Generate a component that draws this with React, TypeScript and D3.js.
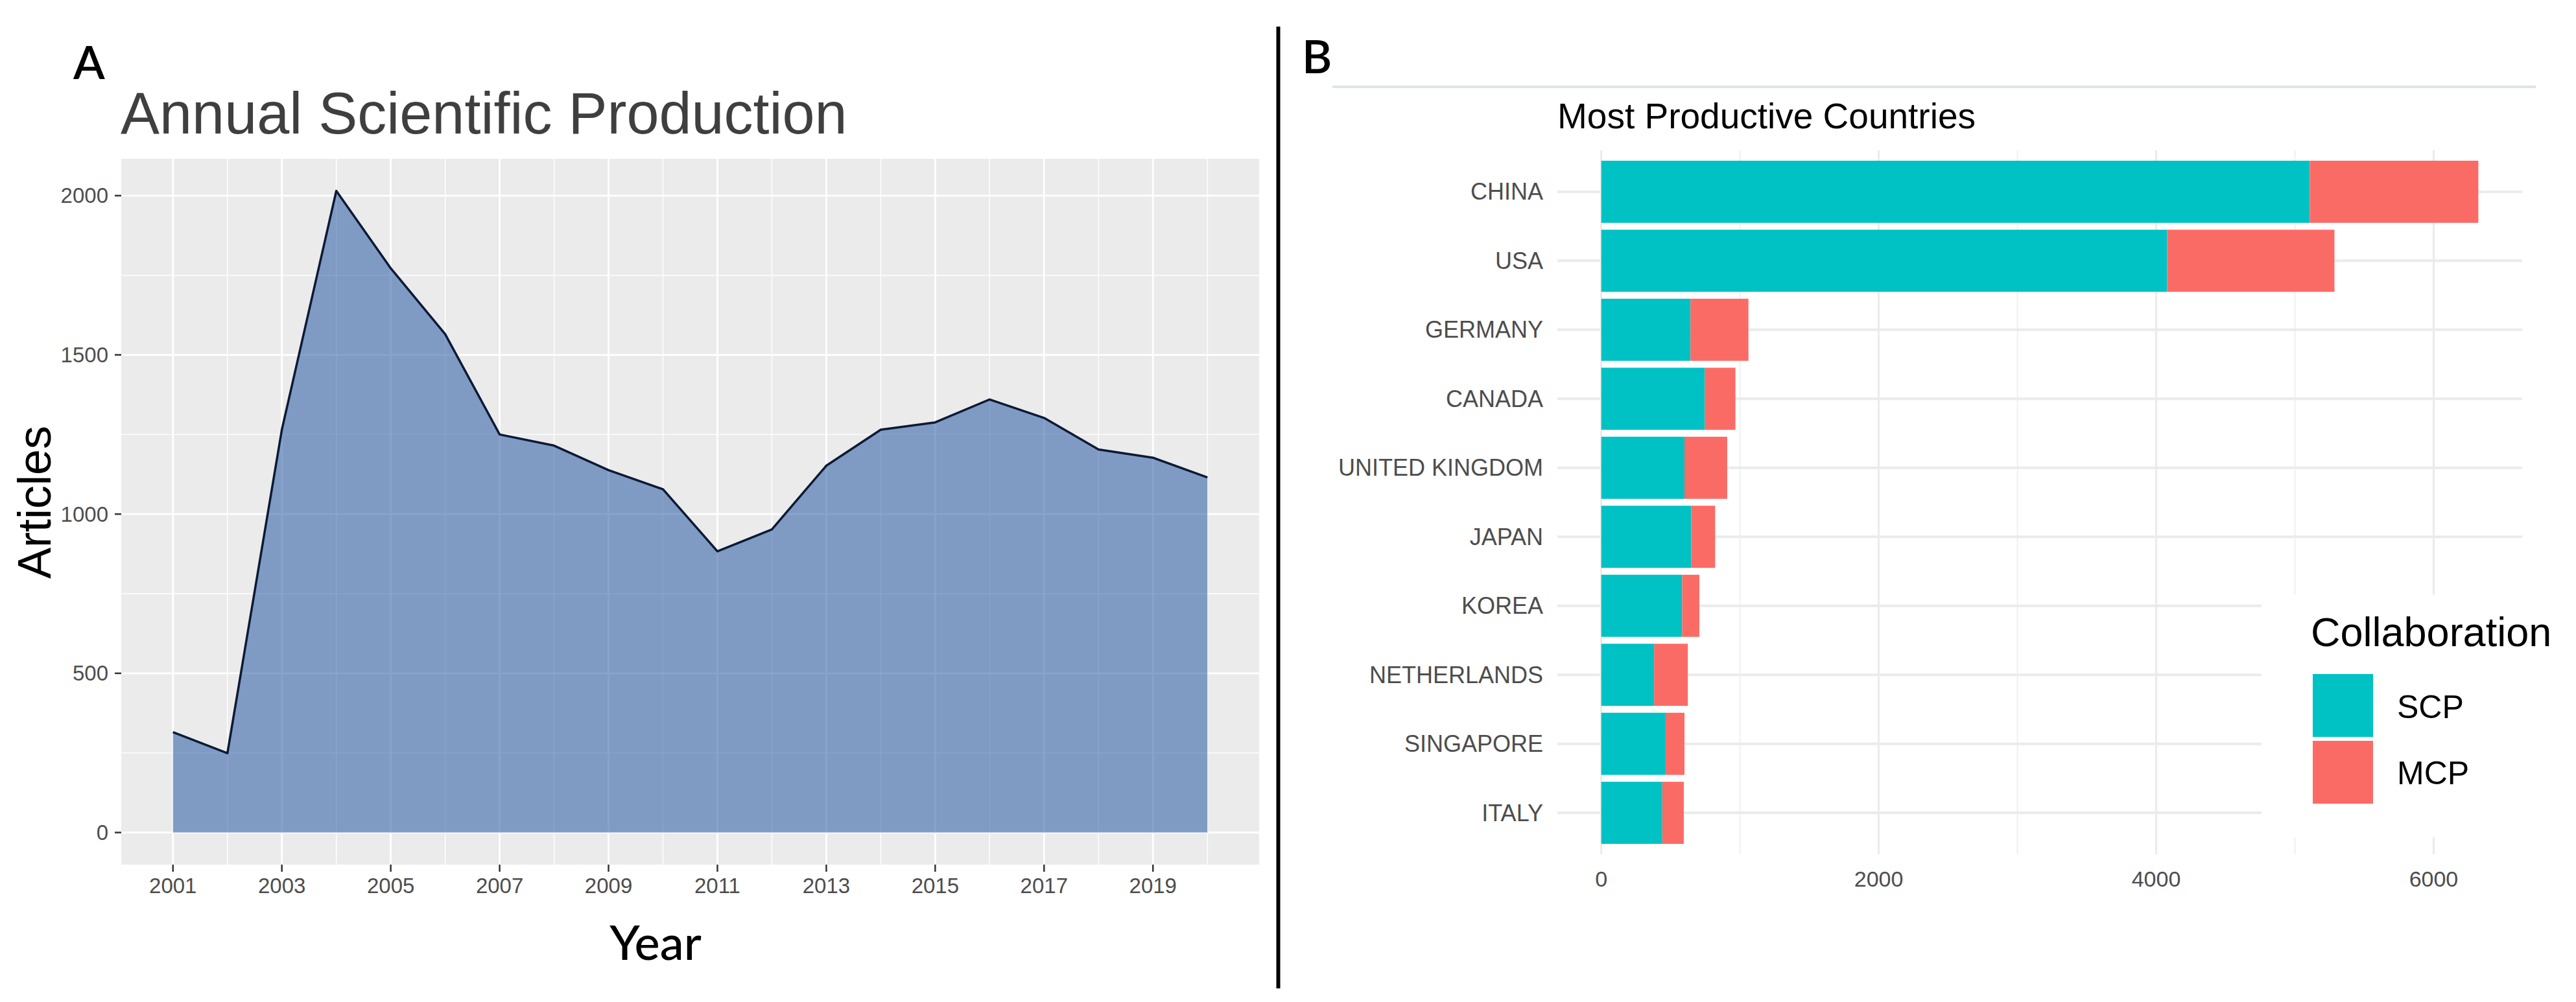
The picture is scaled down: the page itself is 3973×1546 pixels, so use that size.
import React from "react";
import * as d3 from "d3";

const years = [2001, 2002, 2003, 2004, 2005, 2006, 2007, 2008, 2009, 2010, 2011, 2012, 2013, 2014, 2015, 2016, 2017, 2018, 2019, 2020];
const articles = [315, 249, 1265, 2015, 1772, 1565, 1250, 1215, 1138, 1078, 883, 952, 1152, 1265, 1288, 1360, 1302, 1203, 1177, 1115];
const yearTicks = [2001, 2003, 2005, 2007, 2009, 2011, 2013, 2015, 2017, 2019];
const articleTicks = [0, 500, 1000, 1500, 2000];
const articleMinor = [250, 750, 1250, 1750];

const countries = ["CHINA", "USA", "GERMANY", "CANADA", "UNITED KINGDOM", "JAPAN", "KOREA", "NETHERLANDS", "SINGAPORE", "ITALY"];
const scp = [5107, 4079, 643, 746, 600, 648, 583, 381, 464, 440];
const mcp = [1215, 1206, 418, 221, 308, 173, 124, 243, 136, 155];
const countTicks = [0, 2000, 4000, 6000];
const countMinor = [1000, 3000, 5000];
const legendItems = ["SCP", "MCP"];

const W = 3973;
const H = 1546;
const SANS = "'Liberation Sans', Arial, Helvetica, sans-serif";
const LABEL = "Lato, 'Open Sans', sans-serif";
const COL_SCP = "#00C1C4";
const COL_MCP = "#FB6B66";

export default function App() {
  // ---------- Panel A ----------
  const pA = { left: 187, right: 1942, top: 245, bottom: 1334 };
  const xMin = d3.min(years)!;
  const xMax = d3.max(years)!;
  const xPad = (xMax - xMin) * 0.05;
  const xA = d3.scaleLinear().domain([xMin - xPad, xMax + xPad]).range([pA.left, pA.right]);
  const yMax = d3.max(articles)!;
  const yPad = yMax * 0.05;
  const yA = d3.scaleLinear().domain([-yPad, yMax + yPad]).range([pA.bottom, pA.top]);
  const pts: [number, number][] = years.map((y, i) => [y, articles[i]]);
  const area = d3
    .area<[number, number]>()
    .x((d) => xA(d[0]))
    .y0(() => yA(0))
    .y1((d) => yA(d[1]))(pts) as string;
  const line = d3
    .line<[number, number]>()
    .x((d) => xA(d[0]))
    .y((d) => yA(d[1]))(pts) as string;
  const xMinorA = years.filter((y) => !yearTicks.includes(y));

  // ---------- Panel B ----------
  const totals = scp.map((v, i) => v + mcp[i]);
  const tMax = d3.max(totals)!;
  const pB = { left: 2402, right: 3890, top: 232, bottom: 1318 };
  const xB = d3.scaleLinear().domain([-tMax * 0.05, tMax * 1.05]).range([pB.left, pB.right]);
  const yB = d3.scalePoint<string>().domain(countries).range([pB.top, pB.bottom]).padding(0.6);
  const bh = yB.step() * 0.9;

  return (
    <svg
      width={W}
      height={H}
      viewBox={`0 0 ${W} ${H}`}
      style={{ position: "absolute", left: 0, top: 0, background: "#fff" }}
    >
      <rect x={0} y={0} width={W} height={H} fill="#fff" />

      {/* ===== Panel A ===== */}
      <text x={113} y={122} fontFamily={LABEL} fontWeight={600} fontSize={71} fill="#000">A</text>
      <text x={186} y={206} fontFamily={SANS} fontSize={90} fill="#3f3f3f">Annual Scientific Production</text>
      <rect x={pA.left} y={pA.top} width={pA.right - pA.left} height={pA.bottom - pA.top} fill="#EBEBEB" />
      {articleMinor.map((v) => (
        <line key={"ym" + v} x1={pA.left} x2={pA.right} y1={yA(v)} y2={yA(v)} stroke="#fff" strokeWidth={1.4} />
      ))}
      {xMinorA.map((v) => (
        <line key={"xm" + v} x1={xA(v)} x2={xA(v)} y1={pA.top} y2={pA.bottom} stroke="#fff" strokeWidth={1.4} />
      ))}
      {articleTicks.map((v) => (
        <line key={"yM" + v} x1={pA.left} x2={pA.right} y1={yA(v)} y2={yA(v)} stroke="#fff" strokeWidth={2.8} />
      ))}
      {yearTicks.map((v) => (
        <line key={"xM" + v} x1={xA(v)} x2={xA(v)} y1={pA.top} y2={pA.bottom} stroke="#fff" strokeWidth={2.8} />
      ))}
      <path d={area} fill="rgb(39,90,164)" fillOpacity={0.55} />
      <path d={line} fill="none" stroke="#0c1a35" strokeWidth={3.5} strokeLinejoin="round" />
      {articleTicks.map((v) => (
        <g key={"yt" + v}>
          <line x1={pA.left - 10} x2={pA.left} y1={yA(v)} y2={yA(v)} stroke="#333" strokeWidth={2.5} />
          <text x={pA.left - 20} y={yA(v)} dy="0.35em" textAnchor="end" fontFamily={SANS} fontSize={33} fill="#4D4D4D">
            {v}
          </text>
        </g>
      ))}
      {yearTicks.map((v) => (
        <g key={"xt" + v}>
          <line x1={xA(v)} x2={xA(v)} y1={pA.bottom} y2={pA.bottom + 11} stroke="#333" strokeWidth={2.5} />
          <text x={xA(v)} y={1378} textAnchor="middle" fontFamily={SANS} fontSize={33} fill="#4D4D4D">
            {v}
          </text>
        </g>
      ))}
      <text x={1011} y={1481} textAnchor="middle" fontFamily={LABEL} fontWeight={500} fontSize={74} fill="#000">Year</text>
      <text transform="translate(78,775) rotate(-90)" textAnchor="middle" fontFamily={SANS} fontSize={72} fill="#000">
        Articles
      </text>

      {/* divider */}
      <line x1={1971.5} x2={1971.5} y1={41} y2={1525} stroke="#000" strokeWidth={6} />

      {/* ===== Panel B ===== */}
      <text x={2008} y={113} fontFamily={LABEL} fontWeight={600} fontSize={71} fill="#000">B</text>
      <line x1={2055} x2={3911} y1={134} y2={134} stroke="#DFE4E4" strokeWidth={4} />
      <text x={2402} y={198} fontFamily={SANS} fontSize={55} fill="#000">Most Productive Countries</text>

      {countMinor.map((v) => (
        <line key={"cm" + v} x1={xB(v)} x2={xB(v)} y1={pB.top} y2={pB.bottom} stroke="#F0F0F0" strokeWidth={2} />
      ))}
      {countTicks.map((v) => (
        <line key={"cM" + v} x1={xB(v)} x2={xB(v)} y1={pB.top} y2={pB.bottom} stroke="#EBEBEB" strokeWidth={3} />
      ))}
      {countries.map((c) => (
        <line key={"hg" + c} x1={pB.left} x2={pB.right} y1={yB(c)!} y2={yB(c)!} stroke="#EBEBEB" strokeWidth={4} />
      ))}

      {countries.map((c, i) => (
        <g key={"bar" + c}>
          <rect x={xB(0)} y={yB(c)! - bh / 2} width={xB(scp[i]) - xB(0)} height={bh} fill={COL_SCP} />
          <rect x={xB(scp[i])} y={yB(c)! - bh / 2} width={xB(scp[i] + mcp[i]) - xB(scp[i])} height={bh} fill={COL_MCP} />
          <text x={2380} y={yB(c)!} dy="0.35em" textAnchor="end" fontFamily={SANS} fontSize={36} fill="#4D4D4D">
            {c}
          </text>
        </g>
      ))}

      {countTicks.map((v) => (
        <text key={"ct" + v} x={xB(v)} y={1368} textAnchor="middle" fontFamily={SANS} fontSize={34} fill="#4D4D4D">
          {v}
        </text>
      ))}

      {/* legend */}
      <rect x={3488} y={918} width={W - 3488} height={374} fill="#fff" />
      <text x={3564} y={997} fontFamily={SANS} fontSize={63} fill="#000">Collaboration</text>
      {legendItems.map((k, i) => (
        <g key={"lg" + k}>
          <rect x={3567} y={1040 + i * 103} width={93} height={97} fill={i === 0 ? COL_SCP : COL_MCP} />
          <text x={3697} y={1108 + i * 102} fontFamily={SANS} fontSize={50} fill="#000">
            {k}
          </text>
        </g>
      ))}
    </svg>
  );
}
